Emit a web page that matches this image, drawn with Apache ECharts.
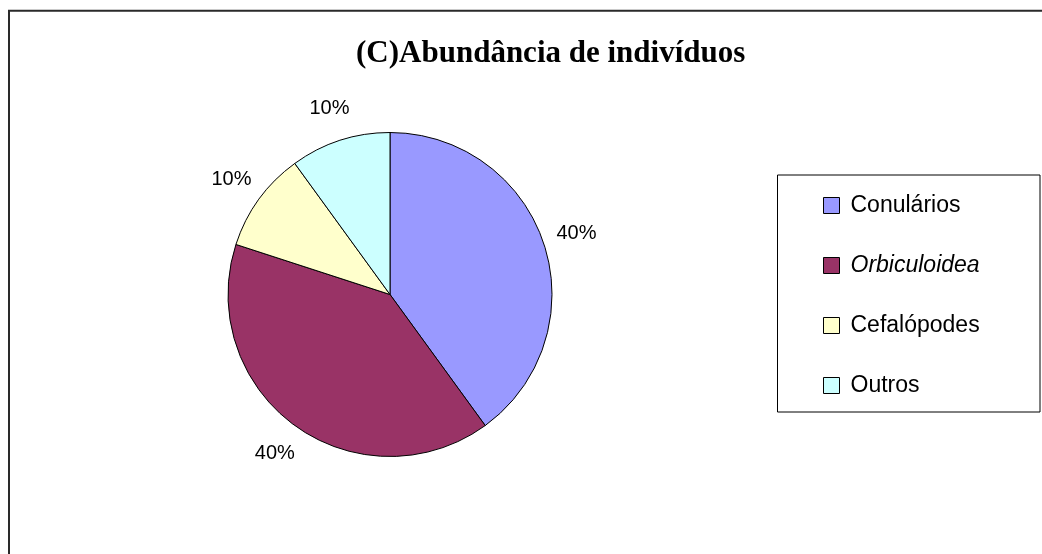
<!DOCTYPE html>
<html>
<head>
<meta charset="utf-8">
<script src="https://cdn.jsdelivr.net/npm/echarts@6/dist/echarts.min.js"></script>
<style>
html,body{margin:0;padding:0;background:#fff;}
#chart{width:1042px;height:554px;}
</style>
</head>
<body>
<div id="chart"></div>
<script>
const titleText = '(C)Abundância de indivíduos';
const categories = ['Conulários', 'Orbiculoidea', 'Cefalópodes', 'Outros'];
const values = [40, 40, 10, 10];
const colors = ['#9999FF', '#993366', '#FFFFCC', '#CCFFFF'];

const chart = echarts.init(document.getElementById('chart'), null, {renderer: 'canvas'});
const sans = '"Liberation Sans", Arial, sans-serif';
const serif = '"Liberation Serif", "Times New Roman", serif';

const option = {
  backgroundColor: '#ffffff',
  animation: false,
  color: colors,
  title: {
    text: titleText,
    left: 351,
    top: 33,
    textStyle: {fontFamily: serif, fontWeight: 'bold', fontSize: 31, color: '#000'}
  },
  graphic: [
    {type: 'rect', silent: true, z: 0,
     shape: {x: 9, y: 10.7, width: 1200, height: 700},
     style: {fill: 'none', stroke: '#2a2a2a', lineWidth: 2}},
    {type: 'rect', silent: true, z: 0,
     shape: {x: 777.5, y: 175, width: 262.5, height: 237},
     style: {fill: '#fff', stroke: '#000', lineWidth: 1}}
  ],
  legend: {
    orient: 'vertical',
    left: 823,
    top: 194,
    padding: 0,
    itemWidth: 16,
    itemHeight: 16,
    itemGap: 37,
    icon: 'rect',
    itemStyle: {borderColor: '#000', borderWidth: 1},
    data: categories,
    formatter: function (name) {
      return name === categories[1] ? '{i|' + name + '}' : name;
    },
    textStyle: {
      fontFamily: sans, fontSize: 23, color: '#000', lineHeight: 16,
      padding: [0, 0, 0, 6],
      rich: {
        i: {fontFamily: sans, fontSize: 23, fontStyle: 'italic', color: '#000', lineHeight: 16}
      }
    }
  },
  series: [{
    type: 'pie',
    center: [390, 294.5],
    radius: 162,
    startAngle: 90,
    clockwise: true,
    avoidLabelOverlap: false,
    itemStyle: {borderColor: '#000', borderWidth: 1},
    emphasis: {disabled: true},
    label: {
      show: true,
      position: 'outside',
      formatter: '{d}%',
      fontFamily: sans,
      fontSize: 20,
      color: '#000',
      distanceToLabelLine: 0
    },
    labelLine: {show: false, length: 34, length2: 0},
    labelLayout: function () { return {align: 'center'}; },
    data: categories.map(function (c, i) { return {name: c, value: values[i]}; })
  }]
};
chart.setOption(option);
</script>
</body>
</html>
